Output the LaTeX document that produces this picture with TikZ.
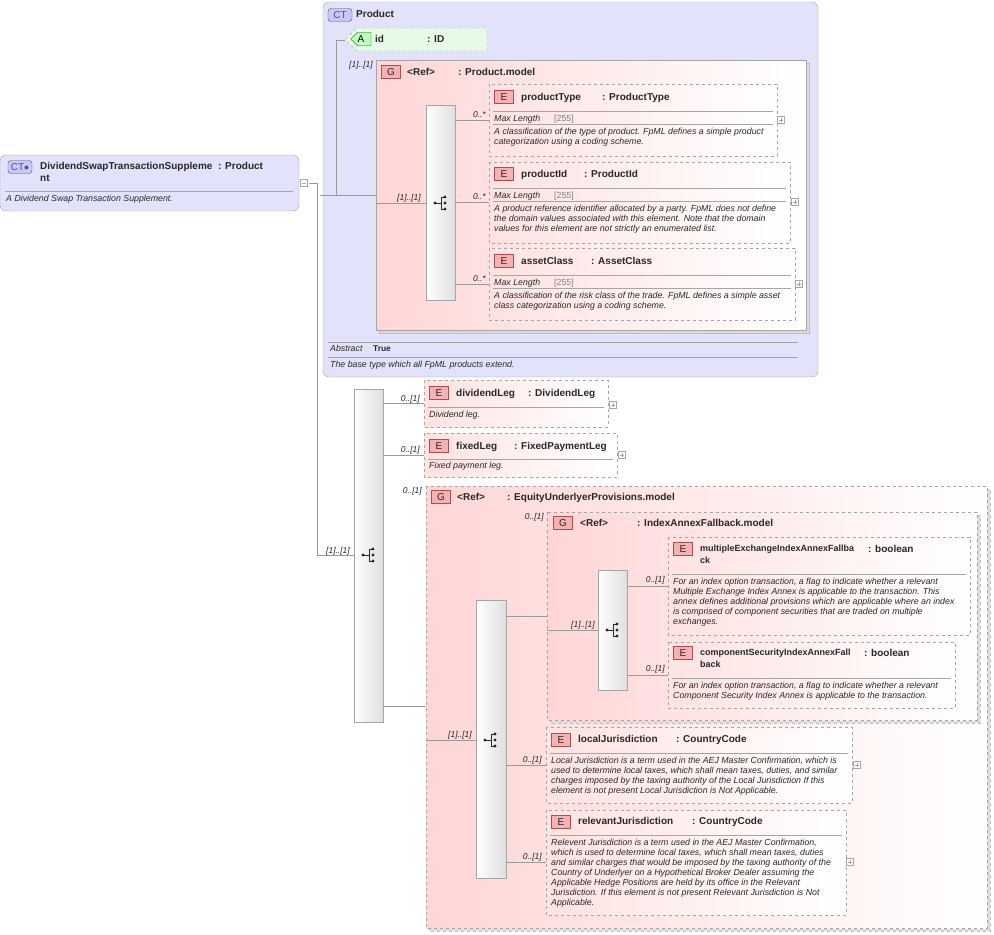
\documentclass[tikz,border=0pt]{standalone}
\usepackage{fontspec}
\setmainfont{Liberation Sans}
\usetikzlibrary{shapes.geometric,shapes.misc,calc}
\definecolor{ctfill}{RGB}{226,226,250}
\definecolor{bord}{RGB}{165,165,165}
\definecolor{pinkg}{RGB}{255,214,214}
\definecolor{pinke}{RGB}{255,226,226}
\definecolor{iconf}{RGB}{246,178,178}
\definecolor{iconb}{RGB}{170,80,80}
\definecolor{ctic}{RGB}{200,200,245}
\definecolor{ctib}{RGB}{80,80,150}
\definecolor{txt}{RGB}{40,40,40}
\definecolor{grn}{RGB}{230,250,230}
\tikzset{
 ctbox/.style={draw=bord,fill=ctfill,rounded corners=6pt},
 grp/.style={draw=bord,left color=pinkg,right color=white},
 dgrp/.style={draw=bord,dashed,left color=pinkg,right color=white},
 elem/.style={draw=bord,dashed,left color=pinke,right color=white},
 shad/.style={draw=bord!70,fill=bord!40},
 seq/.style={draw=bord,left color=white,right color=gray!25},
 icon/.style={draw=iconb,fill=iconf,minimum width=19pt,minimum height=13pt,inner sep=0pt,font=\fontsize{10}{10}\selectfont,text=txt},
 cticon/.style={draw=ctib,fill=ctic,rounded corners=3pt,minimum width=24pt,minimum height=13pt,inner sep=0pt,font=\fontsize{10}{10}\selectfont,text=ctib},
 ttl/.style={anchor=base west,inner sep=0pt,font=\bfseries\fontsize{10}{12}\selectfont,text=txt},
 ttl2/.style={ttl,anchor=north west,align=left,yshift=7.3pt},
 ttl3/.style={ttl2,font=\bfseries\fontsize{9}{12}\selectfont},
 dsc/.style={anchor=north west,yshift=6.6pt,inner sep=0pt,font=\itshape\fontsize{8.8}{10}\selectfont,text=txt,align=left},
 mul/.style={anchor=base east,inner sep=0pt,font=\itshape\fontsize{8.5}{9}\selectfont,text=txt},
 con/.style={draw=gray!80,line width=0.6pt},
 sep/.style={draw=gray!70,line width=0.5pt},
 plus/.style={draw=gray!70,fill=white,minimum size=7pt,inner sep=0pt},
}
\newcommand{\seqicon}[1]{%
 \fill[txt] ($(#1)+(-6,0)$) circle (1.6pt);
 \draw[txt,line width=0.7pt] ($(#1)+(-6,0)$) -- ($(#1)+(0,0)$) ($(#1)+(0,-6)$) -- ($(#1)+(0,6)$)
   ($(#1)+(0,-6)$) -- ($(#1)+(4,-6)$) ($(#1)+(0,6)$) -- ($(#1)+(4,6)$);
 \fill[txt] ($(#1)+(4,-6)$) circle (1.6pt) ($(#1)+(4,0)$) circle (1.6pt) ($(#1)+(4,6)$) circle (1.6pt);}
\newcommand{\plusbox}[1]{\node[plus] at (#1) {}; \draw[gray!70,line width=0.4pt] ($(#1)+(-2.3,0)$) -- ($(#1)+(2.3,0)$) ($(#1)+(0,-2.3)$) -- ($(#1)+(0,2.3)$);}
\newcommand{\maxlen}{Max Length\hspace{14pt}{\upshape\color{gray}[255]}}
\begin{document}
\begin{tikzpicture}[x=1pt,y=-1pt]
\useasboundingbox (0,0) rectangle (994,935);
% ---------- root ----------
\draw[ctbox] (0,155) rectangle (299,211);
\node[cticon] (rootic) at (20,167) {CT$\bullet$};
\node[ttl2] (roott) at (40,169) {DividendSwapTransactionSuppleme\\nt};
\node[ttl] at (218,169) {: Product};
\draw[sep] (5,191) -- (293,191);
\node[dsc] (rootd) at (6,202) {A Dividend Swap Transaction Supplement.};
\node[plus] (rootm) at (304,183) {}; \draw[gray!70] (301.7,183) -- (306.3,183);
% ---------- Product CT ----------
\draw[ctbox] (323,2) rectangle (818,377);
\node[cticon] (prodic) at (340,15) {CT};
\node[ttl] (prodt) at (356,17) {Product};
% id attribute
\draw[draw=bord,dashed,fill=grn] (357,28) -- (487,28) -- (487,51) -- (357,51) -- (345,39.5) -- cycle;
\node[draw=green!40!black,fill=green!25,minimum width=20pt,minimum height=13pt,inner sep=0pt,font=\fontsize{10}{10}\selectfont,chamfered rectangle,chamfered rectangle xsep=3pt,chamfered rectangle corners={north west,south west}] (aic) at (361,39) {A};
\node[ttl] (idn) at (375,42) {id};
\node[ttl] at (427,42) {: ID};
% Product.model group
\draw[shad] (379,63) rectangle (809,333);
\draw[grp] (376,60) rectangle (806,330);
\node[icon] (g1) at (391,72) {G};
\node[ttl] at (407,75) {<Ref>};
\node[ttl] at (458,75) {: Product.model};
\node[mul] at (373,67) {[1]..[1]};
\draw[seq] (426,105) rectangle (455,300);
\coordinate (s1) at (441,203);
\seqicon{s1}
\node[mul] at (421,200) {[1]..[1]};
% connectors from root
\draw[con] (309,183) -- (318,183) (320,195) -- (336,195) (336,195) -- (336,40) -- (345,40) (336,195) -- (376,195);
\draw[con] (376,203) -- (426,203);
% elements in Product.model
\draw[elem] (489,84) rectangle (777,156);
\node[icon] at (504,97) {E};
\node[ttl] at (521,100) {productType};
\node[ttl] at (602,100) {: ProductType};
\draw[sep] (493,111) -- (773,111) (493,124) -- (773,124);
\node[dsc] at (494,122) {\maxlen};
\node[dsc] at (494,135) {A classification of the type of product. FpML defines a simple product\\categorization using a coding scheme.};
\plusbox{781,120}
\draw[elem] (489,162) rectangle (790,243);
\node[icon] at (504,174) {E};
\node[ttl] at (521,177) {productId};
\node[ttl] at (584,177) {: ProductId};
\draw[sep] (493,188) -- (786,188) (493,201) -- (786,201);
\node[dsc] at (494,199) {\maxlen};
\node[dsc] at (494,212) {A product reference identifier allocated by a party. FpML does not define\\the domain values associated with this element. Note that the domain\\values for this element are not strictly an enumerated list.};
\plusbox{795,202}
\draw[elem] (489,248) rectangle (795,320);
\node[icon] at (504,261) {E};
\node[ttl] at (521,264) {assetClass};
\node[ttl] at (591,264) {: AssetClass};
\draw[sep] (493,275) -- (791,275) (493,288) -- (791,288);
\node[dsc] at (494,286) {\maxlen};
\node[dsc] at (494,299) {A classification of the risk class of the trade. FpML defines a simple asset\\class categorization using a coding scheme.};
\plusbox{799,284}
\draw[con] (455,120) -- (489,120) (455,202) -- (489,202) (455,284) -- (489,284);
\node[mul] at (486,117) {0..*}; \node[mul] at (486,199) {0..*}; \node[mul] at (486,281) {0..*};
\draw[sep] (328,342) -- (798,342) (328,357) -- (798,357);
\node[dsc] at (330,352) {Abstract};
\node[anchor=base west,inner sep=0pt,font=\bfseries\fontsize{8.3}{9}\selectfont,text=txt] at (373,351) {True};
\node[dsc] at (330,368) {The base type which all FpML products extend.};
% ---------- lower sequence ----------
\draw[con] (317,183) -- (317,555) -- (354,555);
\node[mul] at (350,553) {[1]..[1]};
\draw[seq] (354,389) rectangle (383,722);
\coordinate (s2) at (369,555);
\seqicon{s2}
% dividendLeg
\draw[elem] (424,380) rectangle (608,427);
\node[icon] at (439,393) {E};
\node[ttl] at (456,396) {dividendLeg};
\node[ttl] at (528,396) {: DividendLeg};
\draw[sep] (428,407) -- (604,407);
\node[dsc] at (429,418) {Dividend leg.};
\plusbox{613,405}
% fixedLeg
\draw[elem] (424,433) rectangle (617,477);
\node[icon] at (439,446) {E};
\node[ttl] at (456,449) {fixedLeg};
\node[ttl] at (514,449) {: FixedPaymentLeg};
\draw[sep] (428,459) -- (613,459);
\node[dsc] at (429,469) {Fixed payment leg.};
\plusbox{622,455}
\draw[con] (383,403) -- (424,403) (383,455) -- (424,455) (383,706) -- (426,706);
\node[mul] at (420,401) {0..[1]}; \node[mul] at (420,452) {0..[1]}; \node[mul] at (422,493) {0..[1]};
% EquityUnderlyerProvisions group
\draw[shad,dashed] (429,489) rectangle (990,931);
\draw[dgrp] (426,486) rectangle (987,928);
\node[icon] at (441,497) {G};
\node[ttl] at (457,500) {<Ref>};
\node[ttl] at (507,500) {: EquityUnderlyerProvisions.model};
\draw[seq] (476,600) rectangle (506,878);
\coordinate (s3) at (491,740);
\seqicon{s3}
\draw[con] (426,740) -- (476,740);
\node[mul] at (472,737) {[1]..[1]};
% IndexAnnexFallback group
\draw[shad,dashed] (550,515) rectangle (980,723);
\draw[dgrp] (547,512) rectangle (977,720);
\node[icon] at (563,523) {G};
\node[ttl] at (580,526) {<Ref>};
\node[ttl] at (637,526) {: IndexAnnexFallback.model};
\node[mul] at (544,519) {0..[1]};
\draw[con] (506,616) -- (547,616) (547,630) -- (598,630);
\draw[seq] (598,570) rectangle (627,690);
\coordinate (s4) at (613,630);
\seqicon{s4}
\node[mul] at (595,627) {[1]..[1]};
\draw[elem] (668,537) rectangle (970,635);
\node[icon] at (683,549) {E};
\node[ttl3] at (700,552) {multipleExchangeIndexAnnexFallba\\ck};
\node[ttl] at (868,552) {: boolean};
\draw[sep] (672,574) -- (966,574);
\node[dsc] at (673,585) {For an index option transaction, a flag to indicate whether a relevant\\Multiple Exchange Index Annex is applicable to the transaction. This\\annex defines additional provisions which are applicable where an index\\is comprised of component securities that are traded on multiple\\exchanges.};
\draw[elem] (668,642) rectangle (955,708);
\node[icon] at (683,653) {E};
\node[ttl3] at (700,656) {componentSecurityIndexAnnexFall\\back};
\node[ttl] at (864,656) {: boolean};
\draw[sep] (672,678) -- (951,678);
\node[dsc] at (673,689) {For an index option transaction, a flag to indicate whether a relevant\\Component Security Index Annex is applicable to the transaction.};
\draw[con] (627,586) -- (668,586) (627,675) -- (668,675);
\node[mul] at (665,582) {0..[1]}; \node[mul] at (665,671) {0..[1]};
% localJurisdiction
\draw[elem] (546,727) rectangle (852,803);
\node[icon] at (561,740) {E};
\node[ttl] at (578,742) {localJurisdiction};
\node[ttl] at (676,742) {: CountryCode};
\draw[sep] (550,753) -- (848,753);
\node[dsc] at (551,764) {Local Jurisdiction is a term used in the AEJ Master Confirmation, which is\\used to determine local taxes, which shall mean taxes, duties, and similar\\charges imposed by the taxing authority of the Local Jurisdiction If this\\element is not present Local Jurisdiction is Not Applicable.};
\plusbox{857,765}
% relevantJurisdiction
\draw[elem] (546,810) rectangle (846,915);
\node[icon] at (561,822) {E};
\node[ttl] at (578,824) {relevantJurisdiction};
\node[ttl] at (692,824) {: CountryCode};
\draw[sep] (550,835) -- (842,835);
\node[dsc] at (551,846) {Relevent Jurisdiction is a term used in the AEJ Master Confirmation,\\which is used to determine local taxes, which shall mean taxes, duties\\and similar charges that would be imposed by the taxing authority of the\\Country of Underlyer on a Hypothetical Broker Dealer assuming the\\Applicable Hedge Positions are held by its office in the Relevant\\Jurisdiction. If this element is not present Relevant Jurisdiction is Not\\Applicable.};
\plusbox{850,862}
\draw[con] (506,765) -- (546,765) (506,862) -- (546,862);
\node[mul] at (542,762) {0..[1]}; \node[mul] at (542,859) {0..[1]};
\end{tikzpicture}
\end{document}
